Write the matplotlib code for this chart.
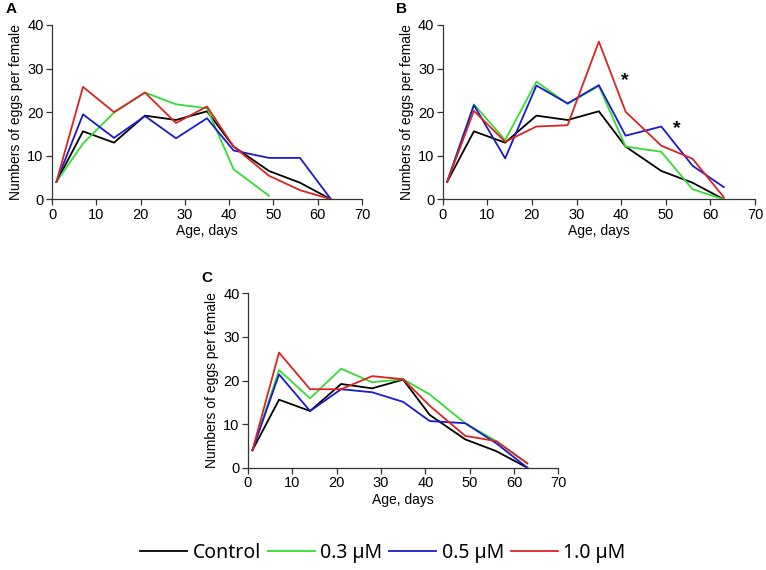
import matplotlib
matplotlib.use('Agg')
import matplotlib.pyplot as plt

# dias de idade (mesmos pontos nos tres paineis)
days = [1, 7, 14, 21, 28, 35, 41, 49, 56, 63]

control = [4, 15.6, 13.0, 19.2, 18.2, 20.2, 12.1, 6.5, 3.8, 0]

# painel A
a_03 = [4, 12.8, 19.9, 24.5, 21.8, 20.9, 6.9, 0.8]
a_05 = [4, 19.5, 14.1, 19.1, 14.0, 18.6, 11.2, 9.5, 9.5, 0]
a_10 = [4, 25.8, 20.0, 24.5, 17.5, 21.3, 12.1, 5.4, 2.1, 0]

# painel B
b_03 = [4, 21.8, 13.6, 27.0, 21.9, 26.0, 12.1, 10.9, 2.3, 0]
b_05 = [4, 21.6, 9.4, 26.1, 22.0, 26.2, 14.6, 16.7, 7.7, 2.8]
b_10 = [4, 20.3, 13.2, 16.7, 17.0, 36.2, 20.1, 12.3, 9.3, 0.5]

# painel C
c_03 = [4, 22.4, 15.9, 22.7, 19.6, 20.3, 16.8, 10.2, 6.1, 1.0]
c_05 = [4, 21.4, 13.0, 18.0, 17.3, 15.1, 10.7, 10.2, 5.6, 0]
c_10 = [4, 26.4, 18.0, 18.0, 21.0, 20.3, 14.2, 7.3, 6.1, 1.0]

labels = ['Control', '0.3 \u00b5M', '0.5 \u00b5M', '1.0 \u00b5M']
colors = ['black', '#33dd33', '#1a1acc', '#dd2222']

# asteriscos de significancia no painel B
stars_x = [40.9, 52.4]
stars_y = [27.2, 16.2]

plt.rcParams['font.family'] = ['Liberation Sans', 'DejaVu Sans']

fig = plt.figure(figsize=(7.66, 5.70), dpi=100)
W, H = 766, 570

def make_axes(x0, x1, y0, y1):
    return fig.add_axes([x0 / W, 1 - y1 / H, (x1 - x0) / W, (y1 - y0) / H])

axA = make_axes(52, 362, 25, 199.3)
axB = make_axes(442.7, 755, 25, 199.3)
axC = make_axes(248, 558.3, 293.3, 467.7)

panels = [
    (axA, [control, a_03, a_05, a_10], 'A'),
    (axB, [control, b_03, b_05, b_10], 'B'),
    (axC, [control, c_03, c_05, c_10], 'C'),
]

for ax, series, letter in panels:
    for vals, c, lab in zip(series, colors, labels):
        ax.plot(days[:len(vals)], vals, color=c, lw=1.3, label=lab)
    ax.set_xlim(0, 70)
    ax.set_ylim(0, 40)
    ax.set_xticks(range(0, 71, 10))
    ax.set_yticks(range(0, 41, 10))
    for s in ['top', 'right']:
        ax.spines[s].set_visible(False)
    for s in ['left', 'bottom']:
        ax.spines[s].set_color('#333333')
        ax.spines[s].set_linewidth(0.9)
    ax.tick_params(direction='out', length=4, width=0.9, color='#333333',
                   labelsize=10.5, pad=2)
    ax.set_xlabel('Age, days', fontsize=10, labelpad=2)
    ax.set_ylabel('Numbers of eggs per female', fontsize=10, labelpad=3)
    ax.text(-0.15, 1.09, letter, transform=ax.transAxes, fontsize=11,
            fontweight='bold', ha='left', va='center')

for sx, sy in zip(stars_x, stars_y):
    axB.text(sx, sy, '*', fontsize=14, fontweight='bold', ha='center', va='center')

handles, labs = axA.get_legend_handles_labels()
fig.legend(handles, labs, loc='center', bbox_to_anchor=(0.5, 1 - 553 / H),
           ncol=4, frameon=False, handlelength=2.4, handletextpad=0.3,
           columnspacing=0.35, prop={'family': 'Noto Sans', 'size': 14})

fig.savefig('out.png', dpi=100)
